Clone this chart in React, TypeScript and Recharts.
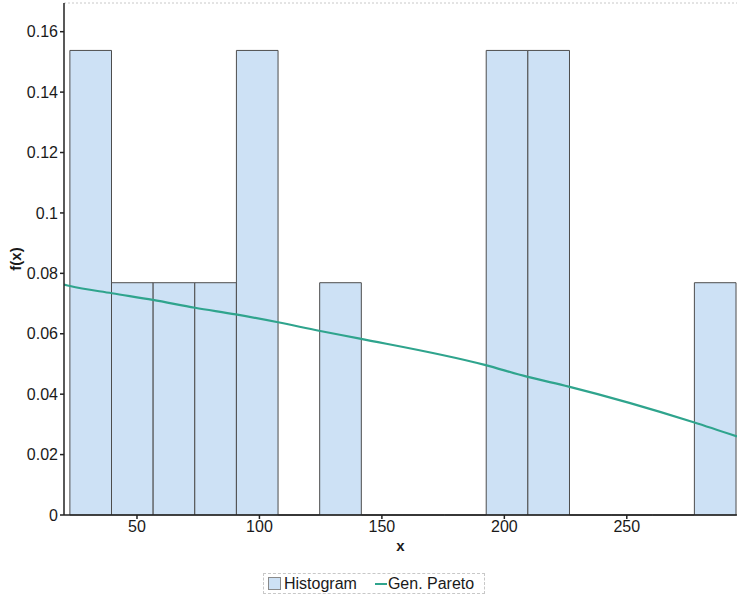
import React from 'react';
import {
  ComposedChart,
  Line,
  XAxis,
  YAxis,
  ReferenceArea,
  ReferenceLine,
  Legend,
} from 'recharts';

// Histogram bins (left edge, right edge) and relative frequencies
const binStarts = [22.6, 39.6, 56.6, 73.6, 90.6, 107.6, 124.6, 141.6, 158.6, 175.6, 192.6, 209.6, 226.6, 243.6, 260.6, 277.6];
const binEnds = [39.6, 56.6, 73.6, 90.6, 107.6, 124.6, 141.6, 158.6, 175.6, 192.6, 209.6, 226.6, 243.6, 260.6, 277.6, 294.6];
const histValues = [0.1538, 0.0769, 0.0769, 0.0769, 0.1538, 0, 0.0769, 0, 0, 0, 0.1538, 0.1538, 0, 0, 0, 0.0769];

// Gen. Pareto density curve
const curveX = [20.2, 22.65, 39.8, 56.5, 73.7, 90.4, 107.6, 124.3, 141, 192, 209.2, 226.3, 277.3, 295];
const curveY = [0.0763, 0.0758, 0.0734, 0.0712, 0.0686, 0.0664, 0.0638, 0.061, 0.0584, 0.0497, 0.0458, 0.0425, 0.0307, 0.026];

const xTicks = [50, 100, 150, 200, 250];
const yTicks = [0, 0.02, 0.04, 0.06, 0.08, 0.1, 0.12, 0.14, 0.16];
const xDomain = [20.2, 295];
const yDomain = [0, 0.1695];

const curveData = curveX.map((x, i) => ({ x, y: curveY[i] }));

const FONT = '"Liberation Sans", Arial, sans-serif';
const BAR_FILL = '#cde1f5';
const BAR_STROKE = '#4d4d4d';
const LINE_COLOR = '#2fa48d';

const LegendContent = () => (
  <div style={{ height: 49, position: 'relative' }}>
    <div
      style={{
        position: 'absolute',
        left: 263,
        top: 18,
        width: 222,
        height: 21,
        border: '1px dashed #c8c8c8',
        display: 'flex',
        alignItems: 'center',
        fontFamily: FONT,
        fontSize: 16,
        color: '#1a1a1a',
        boxSizing: 'border-box',
      }}
    >
      <span
        style={{
          display: 'inline-block',
          width: 13,
          height: 13,
          marginLeft: 4,
          background: BAR_FILL,
          border: '1px solid #8a8a8a',
          boxSizing: 'border-box',
        }}
      />
      <span style={{ marginLeft: 3 }}>Histogram</span>
      <span
        style={{
          display: 'inline-block',
          width: 12,
          height: 2,
          marginLeft: 18,
          background: LINE_COLOR,
        }}
      />
      <span style={{ marginLeft: 1 }}>Gen. Pareto</span>
    </div>
  </div>
);

export default function App() {
  const tickStyle = { fontFamily: FONT, fontSize: 16, fill: '#1a1a1a' };
  return (
    <div style={{ position: 'absolute', left: 0, top: 0 }}>
      <ComposedChart
        width={737}
        height={604}
        data={curveData}
        margin={{ top: 3, right: 0, bottom: 0, left: 0 }}
      >
        <XAxis
          dataKey="x"
          type="number"
          domain={xDomain}
          ticks={xTicks}
          allowDataOverflow
          height={40}
          tick={tickStyle}
          tickSize={4}
          tickMargin={2}
          stroke="#222"
          strokeWidth={1.5}
          label={{ value: 'x', position: 'insideBottom', offset: 4, style: { fontFamily: FONT, fontSize: 15, fill: '#1a1a1a', fontWeight: 'bold' } }}
        />
        <YAxis
          type="number"
          domain={yDomain}
          ticks={yTicks}
          allowDataOverflow
          width={64}
          tick={tickStyle}
          tickSize={4}
          tickMargin={2}
          tickFormatter={(v: number) => String(v)}
          stroke="#222"
          strokeWidth={1.5}
          label={{
            content: (props: any) => {
              const vb = props.viewBox || { x: 0, y: 3, width: 64, height: 512 };
              const cx = 15;
              const cy = vb.y + vb.height / 2;
              return (
                <text
                  x={cx}
                  y={cy}
                  transform={`rotate(-90, ${cx}, ${cy})`}
                  textAnchor="middle"
                  dominantBaseline="central"
                  style={{ fontFamily: FONT, fontSize: 15, fill: '#1a1a1a', fontWeight: 'bold' }}
                >
                  f(x)
                </text>
              );
            },
          }}
        />
        <ReferenceLine y={yDomain[1]} stroke="#c8c8c8" strokeDasharray="2 2" ifOverflow="extendDomain" />
        {binStarts.map((s, i) =>
          histValues[i] > 0 ? (
            <ReferenceArea
              key={`bin-${i}`}
              x1={s}
              x2={binEnds[i]}
              y1={0}
              y2={histValues[i]}
              fill={BAR_FILL}
              fillOpacity={1}
              stroke={BAR_STROKE}
              strokeWidth={1}
              ifOverflow="visible"
            />
          ) : (
            <ReferenceLine
              key={`bin-${i}`}
              segment={[
                { x: s, y: 0 },
                { x: binEnds[i], y: 0 },
              ]}
              stroke={BAR_STROKE}
              strokeWidth={1.5}
              ifOverflow="visible"
            />
          )
        )}
        <Line
          type="monotone"
          dataKey="y"
          stroke={LINE_COLOR}
          strokeWidth={2.2}
          dot={false}
          isAnimationActive={false}
          legendType="line"
          name="Gen. Pareto"
        />
        <Legend verticalAlign="bottom" content={<LegendContent />} wrapperStyle={{ left: 0, width: 737 }} />
      </ComposedChart>
    </div>
  );
}
